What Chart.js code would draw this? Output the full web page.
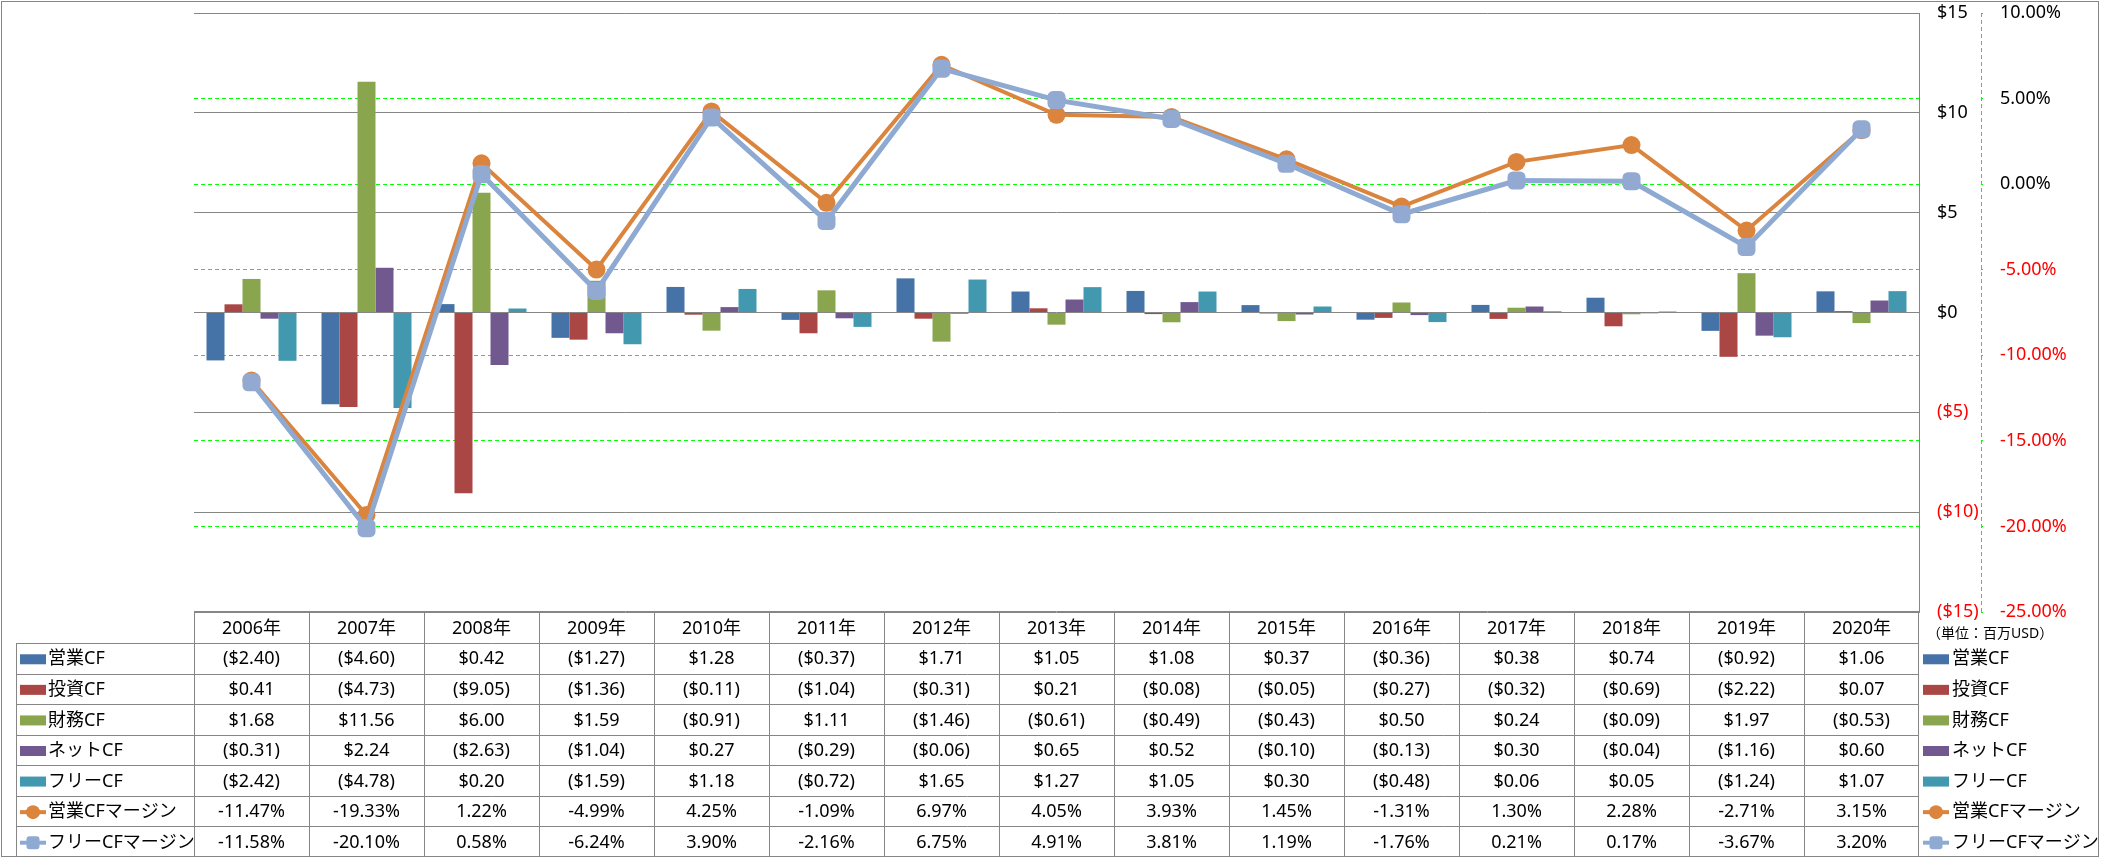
<!DOCTYPE html>
<html><head><meta charset="utf-8">
<script src="https://cdn.jsdelivr.net/npm/chart.js@4.4.0/dist/chart.umd.min.js"></script>
<style>html,body{margin:0;padding:0;background:#fff;overflow:hidden}canvas{display:block}</style>
</head><body>
<canvas id="c" width="2101" height="858"></canvas>
<script>
// ---- data ----
const categories = ['2006年','2007年','2008年','2009年','2010年','2011年','2012年','2013年','2014年','2015年','2016年','2017年','2018年','2019年','2020年'];
const operatingCF = [-2.40,-4.60,0.42,-1.27,1.28,-0.37,1.71,1.05,1.08,0.37,-0.36,0.38,0.74,-0.92,1.06];
const investingCF = [0.41,-4.73,-9.05,-1.36,-0.11,-1.04,-0.31,0.21,-0.08,-0.05,-0.27,-0.32,-0.69,-2.22,0.07];
const financingCF = [1.68,11.56,6.00,1.59,-0.91,1.11,-1.46,-0.61,-0.49,-0.43,0.50,0.24,-0.09,1.97,-0.53];
const netCF = [-0.31,2.24,-2.63,-1.04,0.27,-0.29,-0.06,0.65,0.52,-0.10,-0.13,0.30,-0.04,-1.16,0.60];
const freeCF = [-2.42,-4.78,0.20,-1.59,1.18,-0.72,1.65,1.27,1.05,0.30,-0.48,0.06,0.05,-1.24,1.07];
const operatingMargin = [-11.47,-19.33,1.22,-4.99,4.25,-1.09,6.97,4.05,3.93,1.45,-1.31,1.30,2.28,-2.71,3.15];
const freeMargin = [-11.58,-20.10,0.58,-6.24,3.90,-2.16,6.75,4.91,3.81,1.19,-1.76,0.21,0.17,-3.67,3.20];
const seriesNames = ['営業CF','投資CF','財務CF','ネットCF','フリーCF','営業CFマージン','フリーCFマージン'];
const unitLabel = '（単位：百万USD）';

const FONT = '"Noto Sans", "Noto Sans CJK JP", sans-serif';
const colors = ['#4572A7','#AA4643','#89A54E','#71588F','#4198AF','#DB843D','#8FAAD2'];
const GRID = '#868686';

const money = v => v < 0 ? '($' + Math.abs(v).toFixed(2) + ')' : '$' + v.toFixed(2);
const pct = v => v.toFixed(2) + '%';

const rows = [
  {name: seriesNames[0], data: operatingCF, color: colors[0], kind: 'bar', fmt: money},
  {name: seriesNames[1], data: investingCF, color: colors[1], kind: 'bar', fmt: money},
  {name: seriesNames[2], data: financingCF, color: colors[2], kind: 'bar', fmt: money},
  {name: seriesNames[3], data: netCF, color: colors[3], kind: 'bar', fmt: money},
  {name: seriesNames[4], data: freeCF, color: colors[4], kind: 'bar', fmt: money},
  {name: seriesNames[5], data: operatingMargin, color: colors[5], kind: 'circle', fmt: pct},
  {name: seriesNames[6], data: freeMargin, color: colors[6], kind: 'square', fmt: pct}
];

function drawKey(ctx, x, yc, r) {
  ctx.save();
  if (r.kind === 'bar') {
    ctx.fillStyle = r.color;
    ctx.fillRect(x, yc - 5, 26, 10);
  } else {
    ctx.strokeStyle = r.color; ctx.lineWidth = 4;
    ctx.beginPath(); ctx.moveTo(x, yc); ctx.lineTo(x + 26, yc); ctx.stroke();
    ctx.fillStyle = r.color;
    if (r.kind === 'circle') {
      ctx.beginPath(); ctx.arc(x + 13, yc, 7, 0, Math.PI * 2); ctx.fill();
    } else {
      ctx.beginPath();
      if (ctx.roundRect) ctx.roundRect(x + 6.5, yc - 6.5, 13, 13, 3); else ctx.rect(x + 6.5, yc - 6.5, 13, 13);
      ctx.fill();
    }
  }
  ctx.restore();
}

const tablePlugin = {
  id: 'cfTable',
  afterDraw(chart) {
    const ctx = chart.ctx;
    const xs = chart.scales.x, y2 = chart.scales.y2;
    const area = chart.chartArea;
    const n = categories.length;
    const colW = (area.right - area.left) / n;
    const top = Math.round(area.bottom);
    const headerH = 31;
    const rowsTop = top + headerH;
    const bottom = 857;
    const rowH = (bottom - rowsTop) / rows.length;
    const legendLeft = 16;
    const px = v => Math.round(v) + 0.5;

    ctx.save();
    // secondary axis dashed line
    ctx.strokeStyle = '#00FF00'; ctx.lineWidth = 1; ctx.setLineDash([4, 3]);
    ctx.beginPath(); ctx.moveTo(px(y2.left), area.top); ctx.lineTo(px(y2.left), area.bottom); ctx.stroke();
    ctx.setLineDash([]);

    // table lines
    ctx.strokeStyle = GRID; ctx.lineWidth = 1;
    ctx.beginPath();
    ctx.moveTo(area.left, px(top) - 1); ctx.lineTo(area.right, px(top) - 1);
    for (let i = 0; i < rows.length; i++) {
      const y = px(rowsTop + i * rowH);
      ctx.moveTo(legendLeft, y); ctx.lineTo(area.right, y);
    }
    for (let i = 0; i <= n; i++) {
      const x = px(area.left + i * colW) - (i === n ? 1 : 0);
      ctx.moveTo(x, top); ctx.lineTo(x, bottom);
    }
    ctx.moveTo(px(legendLeft), rowsTop); ctx.lineTo(px(legendLeft), bottom);
    ctx.stroke();
    // outer border
    ctx.strokeRect(1.5, 1.5, 2097, 855);

    // header text
    ctx.fillStyle = '#000';
    ctx.font = '18px ' + FONT;
    ctx.textAlign = 'center'; ctx.textBaseline = 'middle';
    for (let i = 0; i < n; i++) {
      ctx.fillText(categories[i], xs.getPixelForValue(i), top + headerH / 2 + 1);
    }
    // rows
    rows.forEach((r, ri) => {
      const yc = rowsTop + ri * rowH + rowH / 2 + 1;
      ctx.textAlign = 'center';
      for (let i = 0; i < n; i++) {
        ctx.fillText(r.fmt(r.data[i]), xs.getPixelForValue(i), yc);
      }
      drawKey(ctx, 20, yc, r);
      ctx.fillStyle = '#000';
      ctx.textAlign = 'left';
      ctx.fillText(r.name, 48, yc);
      drawKey(ctx, area.right + 4, yc, r);
      ctx.fillStyle = '#000';
      ctx.fillText(r.name, area.right + 33, yc);
    });
    // unit label
    ctx.font = '14px ' + FONT;
    ctx.textAlign = 'left';
    ctx.fillText(unitLabel, area.right + 8, top + 22);
    ctx.restore();
  }
};

const barSets = rows.slice(0, 5).map((r, i) => ({
  type: 'bar', label: r.name, data: r.data, backgroundColor: r.color, borderWidth: 0,
  yAxisID: 'y', order: 2 + i, categoryPercentage: 90 / 115, barPercentage: 1
}));
const lineSets = [
  {type: 'line', label: seriesNames[5], data: operatingMargin, yAxisID: 'y2', order: 1,
   borderColor: colors[5], backgroundColor: colors[5], borderWidth: 4, tension: 0,
   pointStyle: 'circle', pointRadius: 9, pointBackgroundColor: colors[5], pointBorderColor: colors[5], pointBorderWidth: 0},
  {type: 'line', label: seriesNames[6], data: freeMargin, yAxisID: 'y2', order: 0,
   borderColor: colors[6], backgroundColor: colors[6], borderWidth: 5, tension: 0,
   pointStyle: 'rectRounded', pointRadius: 10.5, pointBackgroundColor: '#92AAD2', pointBorderColor: '#92AAD2', pointBorderWidth: 0}
];

const negRed = ctx => (ctx.tick && ctx.tick.value < 0) ? '#FF0000' : '#000000';
const noPad = s => { s.paddingTop = 0; s.paddingBottom = 0; };

new Chart(document.getElementById('c'), {
  data: {labels: categories, datasets: [...barSets, ...lineSets]},
  plugins: [tablePlugin],
  options: {
    responsive: false, animation: false, devicePixelRatio: 1,
    layout: {padding: {left: 194, top: 13, right: 0, bottom: 246}},
    plugins: {legend: {display: false}, tooltip: {enabled: false}},
    scales: {
      x: {type: 'category', offset: true, grid: {display: false, drawTicks: false}, border: {display: false}, ticks: {display: false}},
      y: {position: 'right', min: -15, max: 15,
          ticks: {stepSize: 5, padding: 18, color: negRed, font: {family: FONT, size: 18},
                  callback: v => v < 0 ? '($' + (-v) + ')' : '$' + v},
          grid: {color: GRID, lineWidth: 1, drawTicks: false},
          border: {display: true, color: GRID, width: 1},
          afterFit: s => { s.width = 62; noPad(s); }},
      y2: {position: 'right', min: -25, max: 10,
          ticks: {stepSize: 5, padding: 15, color: negRed, font: {family: FONT, size: 18},
                  callback: v => Number(v).toFixed(2) + '%'},
          grid: {color: c => (c.tick && (c.tick.value === 10 || c.tick.value === -25)) ? 'rgba(0,0,0,0)' : '#00FF00',
                 lineWidth: 1, drawTicks: true, tickLength: 4, tickColor: '#00FF00', tickBorderDash: [2, 2]},
          border: {display: false, dash: [4, 3]},
          afterFit: s => { s.width = 120; noPad(s); }}
    }
  }
});
</script>
</body></html>
